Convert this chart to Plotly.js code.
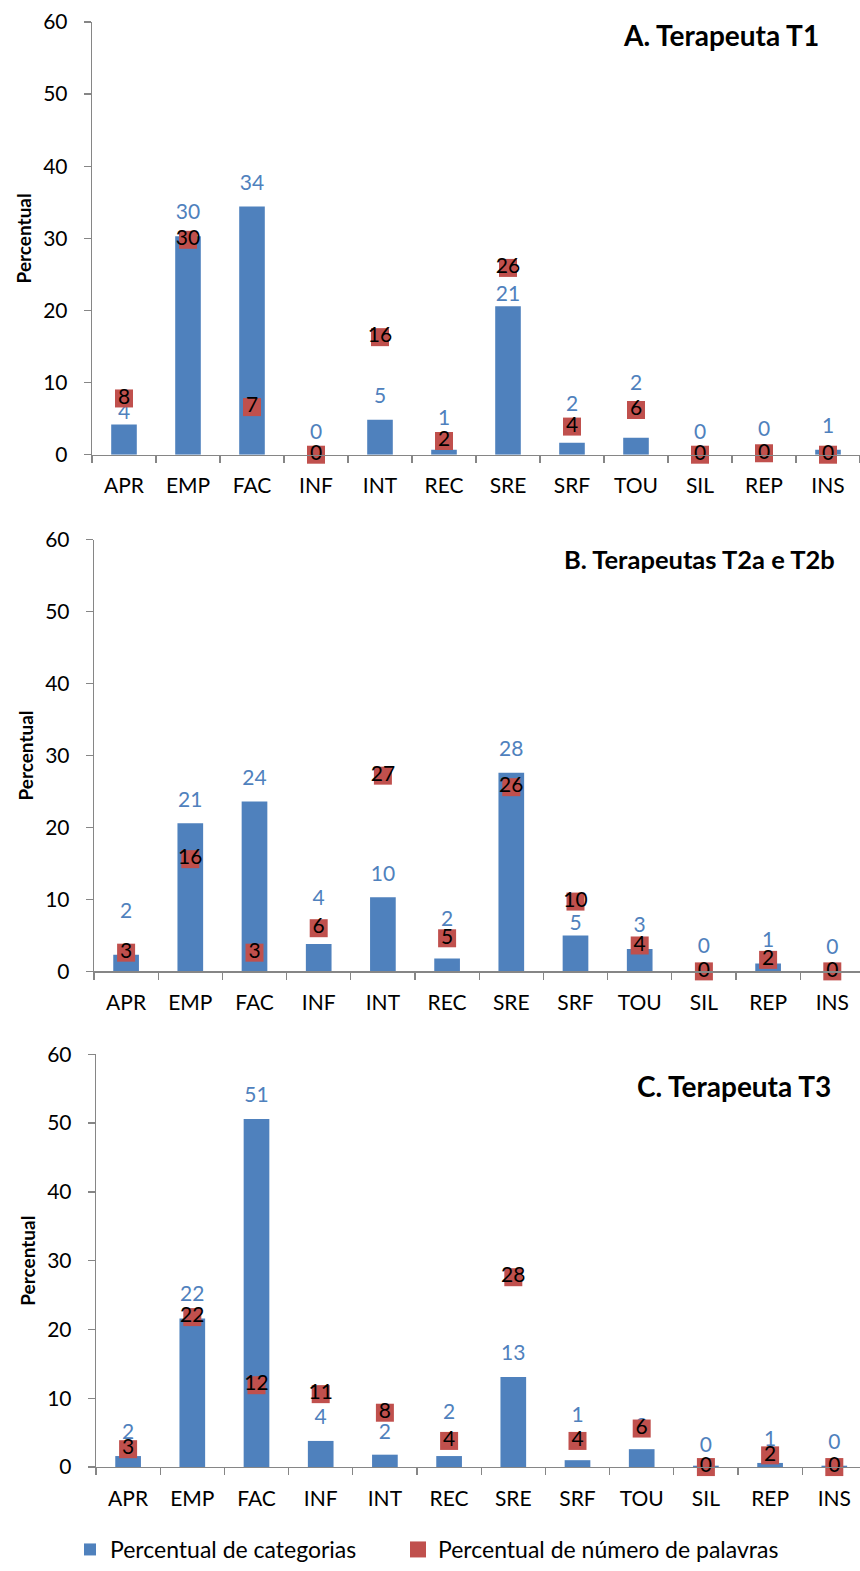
<!DOCTYPE html>
<html><head><meta charset="utf-8">
<script src="https://cdn.plot.ly/plotly-3.0.1.min.js"></script>
<style>html,body{margin:0;padding:0;background:#fff}#chart{width:860px;height:1571px}</style>
</head><body><div id="chart"></div>
<script>
// ---- data ----
const categories = ['APR','EMP','FAC','INF','INT','REC','SRE','SRF','TOU','SIL','REP','INS'];
const categoriasA = [4.2, 30.3, 34.4, 0, 4.85, 0.7, 20.6, 1.66, 2.36, 0, 0, 0.7];
const palavrasA   = [7.8, 29.8, 6.6, 0, 16.3, 1.9, 25.9, 3.9, 6.2, 0, 0.2, 0];
const categoriasB = [2.3, 20.6, 23.6, 3.8, 10.3, 1.8, 27.6, 5.0, 3.1, 0, 1.1, 0];
const palavrasB   = [2.6, 15.6, 2.6, 6.0, 27.2, 4.6, 25.6, 9.7, 3.6, 0, 1.6, 0];
const categoriasC = [1.6, 21.6, 50.6, 3.8, 1.8, 1.6, 13.1, 1.0, 2.6, 0.2, 0.6, 0.2];
const palavrasC   = [2.6, 21.8, 11.9, 10.6, 7.9, 3.8, 27.6, 3.8, 5.6, 0, 1.7, 0];
const seriesNames = ['Percentual de categorias', 'Percentual de número de palavras'];
const panelTitles = ['A. Terapeuta T1', 'B. Terapeutas T2a e T2b', 'C. Terapeuta T3'];
const yTitle = 'Percentual';
const yTicks = [0, 10, 20, 30, 40, 50, 60];

// ---- style: pixel lift of each blue data label above its bar (as placed in the original) ----
const labelLiftA = [9, 23, 23, 22, 23, 31, 9, 38, 54, 22, 25, 23];
const labelLiftB = [43, 22, 23, 45, 22, 38, 23, 8, 23, 24, 22, 23];
const labelLiftC = [23, 23, 23, 23, 22, 43, 23, 44, 22, 20, 23, 23];

const BLUE = '#4F81BD', RED = '#C0504D', AXIS = '#868686', FONT = 'Lato, sans-serif';
const W = 860, H = 1571;
const LABEL_SIZE = 21;
const panels = [
  {cat: categoriasA, words: palavrasA, lift: labelLiftA, x0: 92, step: 64.0, yTop: 22,   yBot: 455,  tx: 821, ty: 35,   tsize: 28},
  {cat: categoriasB, words: palavrasB, lift: labelLiftB, x0: 94, step: 64.2, yTop: 540,  yBot: 972,  tx: 837, ty: 559,  tsize: 25.5},
  {cat: categoriasC, words: palavrasC, lift: labelLiftC, x0: 96, step: 64.2, yTop: 1055, yBot: 1468, tx: 833, ty: 1087, tsize: 28}
];
// invisible marker size that pushes a 'top center' text label up by the wanted lift
const liftToSize = g => Math.max(0, 1.6 * (g - 12.2));

const data = [];
const legendCommon = {
  orientation: 'h', xanchor: 'left', y: 1 - 1550 / H, yanchor: 'middle',
  font: {family: FONT, size: 23, color: '#000'},
  bgcolor: 'rgba(0,0,0,0)', borderwidth: 0
};
const layout = {
  width: W, height: H,
  margin: {l: 0, r: 0, t: 0, b: 0},
  paper_bgcolor: '#fff', plot_bgcolor: 'rgba(0,0,0,0)',
  showlegend: true,
  legend: Object.assign({x: 70 / W}, legendCommon),
  legend2: Object.assign({x: 398 / W}, legendCommon),
  annotations: [],
  font: {family: FONT, color: '#000'}
};

panels.forEach((p, i) => {
  const s = i === 0 ? '' : String(i + 1);
  const xa = 'x' + s, ya = 'y' + s;
  data.push({
    type: 'bar', x: categories, y: p.cat, xaxis: xa, yaxis: ya,
    width: 0.4, marker: {color: BLUE, line: {width: 0}}, name: seriesNames[0],
    legend: 'legend', legendgroup: 'cat', showlegend: i === 0, hoverinfo: 'skip'
  });
  data.push({
    type: 'scatter', mode: 'markers+text', x: categories, y: p.cat, xaxis: xa, yaxis: ya,
    marker: {size: p.lift.map(liftToSize), color: 'rgba(0,0,0,0)', opacity: 0,
             line: {width: 0, color: 'rgba(0,0,0,0)'}},
    texttemplate: '%{y:.0f}', textposition: 'top center',
    textfont: {family: FONT, size: LABEL_SIZE, color: BLUE},
    showlegend: false, hoverinfo: 'skip', cliponaxis: false
  });
  data.push({
    type: 'scatter', mode: 'markers', x: categories, y: p.words, xaxis: xa, yaxis: ya,
    marker: {symbol: 'square', size: 18, color: RED, line: {width: 0}},
    name: seriesNames[1], legend: 'legend2', legendgroup: 'words', showlegend: i === 0,
    hoverinfo: 'skip', cliponaxis: false
  });
  data.push({
    type: 'scatter', mode: 'text', x: categories, y: p.words, xaxis: xa, yaxis: ya,
    texttemplate: '%{y:.0f}', textposition: 'middle center',
    textfont: {family: FONT, size: LABEL_SIZE, color: '#000'},
    showlegend: false, hoverinfo: 'skip', cliponaxis: false
  });

  layout['xaxis' + s] = {
    domain: [p.x0 / W, 1], anchor: ya,
    type: 'category', categoryorder: 'array', categoryarray: categories,
    range: [-0.5, -0.5 + (W - p.x0) / p.step],
    tickson: 'boundaries', ticks: 'outside', ticklen: 7, tickwidth: 1.3, tickcolor: AXIS,
    showline: true, linecolor: AXIS, linewidth: 1.3,
    showgrid: false, zeroline: false, automargin: false,
    tickfont: {family: FONT, size: 21, color: '#000'}, ticklabelstandoff: 12,
    fixedrange: true
  };
  layout['yaxis' + s] = {
    domain: [1 - p.yBot / H, 1 - p.yTop / H], anchor: xa,
    range: [0, 60], tickmode: 'array', tickvals: yTicks,
    ticks: 'outside', ticklen: 7, tickwidth: 1.3, tickcolor: AXIS,
    showline: true, linecolor: AXIS, linewidth: 1.3,
    showgrid: false, zeroline: false, automargin: false,
    tickfont: {family: FONT, size: 21, color: '#000'}, ticklabelstandoff: 12,
    title: {text: '<b>' + yTitle + '</b>', font: {family: FONT, size: 19, color: '#000'}, standoff: 6},
    fixedrange: true
  };
  layout.annotations.push({
    xref: 'paper', yref: 'paper', x: p.tx / W, y: 1 - p.ty / H,
    xanchor: 'right', yanchor: 'middle', showarrow: false,
    text: '<b>' + panelTitles[i] + '</b>',
    font: {family: FONT, size: p.tsize, color: '#000'}
  });
});

Plotly.newPlot('chart', data, layout, {staticPlot: true, displayModeBar: false});
</script>
</body></html>
